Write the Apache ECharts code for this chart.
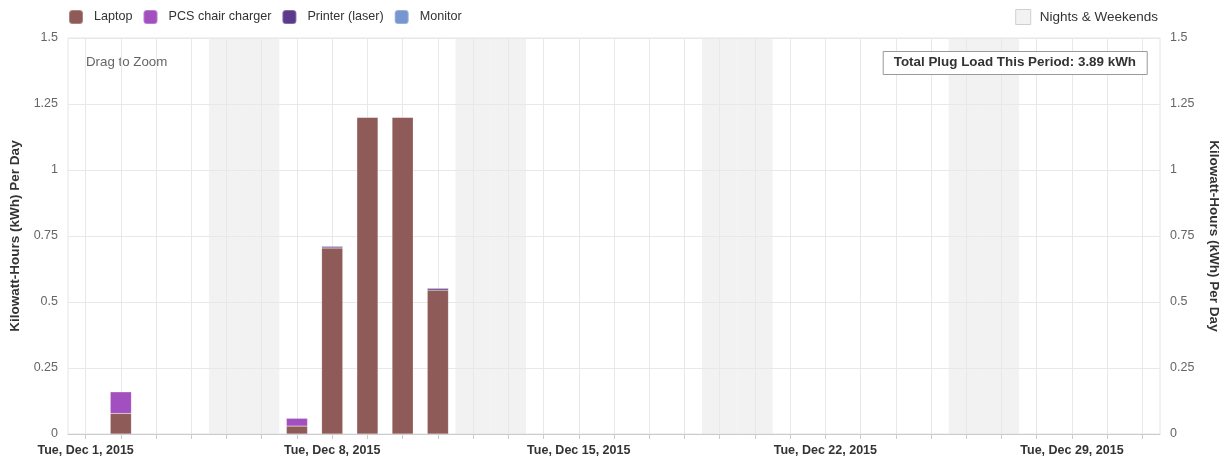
<!DOCTYPE html>
<html>
<head>
<meta charset="utf-8">
<script src="https://cdn.jsdelivr.net/npm/echarts@6/dist/echarts.min.js"></script>
<style>html,body{margin:0;padding:0;background:#fff}#c{width:1226px;height:457px}</style>
</head>
<body>
<div id="c"></div>
<script>
const categories = ['Dec 1','Dec 2','Dec 3','Dec 4','Dec 5','Dec 6','Dec 7','Dec 8','Dec 9','Dec 10',
  'Dec 11','Dec 12','Dec 13','Dec 14','Dec 15','Dec 16','Dec 17','Dec 18','Dec 19','Dec 20',
  'Dec 21','Dec 22','Dec 23','Dec 24','Dec 25','Dec 26','Dec 27','Dec 28','Dec 29','Dec 30','Dec 31'];
const tickLabels = ['Tue, Dec 1, 2015','Tue, Dec 8, 2015','Tue, Dec 15, 2015','Tue, Dec 22, 2015','Tue, Dec 29, 2015'];
const barDays = ['Dec 2','Dec 7','Dec 8','Dec 9','Dec 10','Dec 11'];
const laptop  = [0.078, 0.030, 0.705, 1.200, 1.200, 0.545];
const pcs     = [0.082, 0.030, 0.000, 0.000, 0.000, 0.000];
const printer = [0.000, 0.000, 0.006, 0.000, 0.000, 0.007];
const monitor = [0.000, 0.000, 0.000, 0.000, 0.000, 0.000];
const weekendDays = ['Dec 5','Dec 6','Dec 12','Dec 13','Dec 19','Dec 20','Dec 26','Dec 27'];
const totalText = 'Total Plug Load This Period: 3.89 kWh';

const FONT = '"Liberation Sans", Arial, Helvetica, sans-serif';
const colors = {Laptop:'#8f5b59', 'PCS chair charger':'#a24fc0', 'Printer (laser)':'#5b3a8c', 'Monitor':'#7796cf'};
const pair = (vals) => barDays.map((d, i) => [d, vals[i]]);

function stackSeries(name, vals) {
  return {
    name, type: 'bar', stack: 'load', xAxisIndex: 0, yAxisIndex: 0,
    barWidth: '60%', data: pair(vals),
    itemStyle: {color: colors[name], borderColor: 'rgba(255,255,255,0.25)', borderWidth: 0.5},
    silent: true, z: 3
  };
}

const chart = echarts.init(document.getElementById('c'), null, {renderer: 'canvas'});
const yLabelFmt = (v) => String(v);
const AXNAME = {fontSize: 13.5, fontWeight: 'bold', color: '#333', fontFamily: FONT};
chart.setOption({
  animation: false,
  backgroundColor: '#fff',
  textStyle: {fontFamily: FONT},
  grid: {left: 68, right: 66, top: 38, bottom: 23, outerBoundsMode: 'none', containLabel: false,
         show: true, borderColor: '#e4e4e4', borderWidth: 1, backgroundColor: 'transparent'},
  legend: [
    {data: ['Laptop','PCS chair charger','Printer (laser)','Monitor'], left: 68, top: 9, padding: 0,
     itemWidth: 14, itemHeight: 14, itemGap: 10, icon: 'roundRect',
     textStyle: {fontSize: 12.6, color: '#333', fontFamily: FONT, padding: [0, 0, 0, 6]}, selectedMode: false},
    {data: ['Nights & Weekends'], right: 68, top: 9, padding: 0, itemWidth: 15, itemHeight: 15, icon: 'rect',
     itemStyle: {borderColor: '#cfcfcf', borderWidth: 1},
     textStyle: {fontSize: 13.5, color: '#333', fontFamily: FONT, padding: [0, 0, 0, 4]}, selectedMode: false}
  ],
  title: {
    text: totalText, right: 79, top: 51, padding: [5, 11, 6, 11],
    borderColor: '#9a9a9a', borderWidth: 1, backgroundColor: '#fff',
    textStyle: {fontSize: 13.4, fontWeight: 'bold', color: '#333', fontFamily: FONT}
  },
  graphic: [{type: 'text', left: 86, top: 56, silent: true,
    style: {text: 'Drag to Zoom', fill: '#666', font: '13.3px ' + FONT}}],
  xAxis: [
    {type: 'category', data: categories, boundaryGap: true,
     axisLine: {lineStyle: {color: '#cccccc'}},
     axisTick: {show: true, alignWithLabel: true, interval: 0, length: 5, lineStyle: {color: '#cccccc'}},
     splitLine: {show: true, alignWithLabel: true, interval: 0, lineStyle: {color: '#e8e8e8'}},
     axisLabel: {interval: 6, margin: 10, fontSize: 12.5, fontWeight: 'bold', color: '#333', fontFamily: FONT,
       formatter: (v, i) => tickLabels[Math.floor(i / 7)] || ''}},
    {type: 'category', data: categories, boundaryGap: true, show: false}
  ],
  yAxis: [
    {type: 'value', min: 0, max: 1.5, interval: 0.25, position: 'left',
     name: 'Kilowatt-Hours (kWh) Per Day', nameLocation: 'middle', nameGap: 43, nameRotate: 90,
     nameTextStyle: AXNAME,
     axisLine: {show: false}, axisTick: {show: false},
     splitLine: {lineStyle: {color: '#e8e8e8'}},
     axisLabel: {color: '#666', fontSize: 12.5, margin: 10, formatter: yLabelFmt, fontFamily: FONT}},
    {type: 'value', min: 0, max: 1.5, interval: 0.25, position: 'right',
     name: 'Kilowatt-Hours (kWh) Per Day', nameLocation: 'middle', nameGap: 47, nameRotate: -90,
     nameTextStyle: AXNAME,
     axisLine: {show: false}, axisTick: {show: false}, splitLine: {show: false},
     axisLabel: {color: '#666', fontSize: 12.5, margin: 10, formatter: yLabelFmt, fontFamily: FONT}},
    {type: 'value', min: 0, max: 1, show: false}
  ],
  series: [
    {name: 'Nights & Weekends', type: 'bar', xAxisIndex: 1, yAxisIndex: 2, barWidth: '100%',
     data: weekendDays.map(d => [d, 1]), itemStyle: {color: '#f2f2f2'}, silent: true, z: -1},
    stackSeries('Laptop', laptop),
    stackSeries('PCS chair charger', pcs),
    stackSeries('Printer (laser)', printer),
    stackSeries('Monitor', monitor)
  ]
});
</script>
</body>
</html>
